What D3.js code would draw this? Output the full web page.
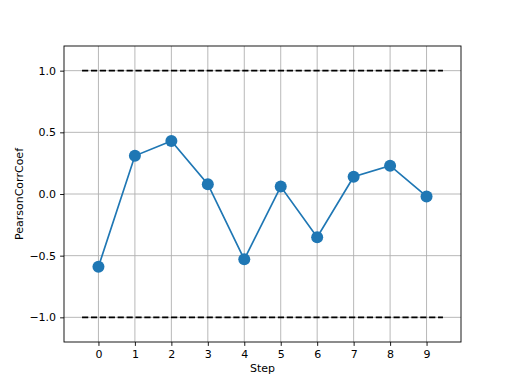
<!DOCTYPE html>
<html>
<head>
<meta charset="utf-8">
<script src="https://cdn.jsdelivr.net/npm/d3@7"></script>
<style>
  body { margin: 0; background: #fff; }
  text { font-family: "DejaVu Sans", sans-serif; }
</style>
</head>
<body>
<div id="chart"></div>
<script>
// values
var steps = [0, 1, 2, 3, 4, 5, 6, 7, 8, 9];
var corr = [-0.59, 0.31, 0.43, 0.08, -0.53, 0.06, -0.35, 0.14, 0.23, -0.02];
var yTicks = [-1.0, -0.5, 0.0, 0.5, 1.0];
var bounds = [-1, 1];

var W = 512, H = 384;
var margin = {top: 46, right: 51, bottom: 42, left: 64},
    width = W - margin.left - margin.right,
    height = H - margin.top - margin.bottom;

var svg = d3.select("#chart").append("svg")
    .attr("width", W)
    .attr("height", H);

var g = svg.append("g")
    .attr("transform", "translate(" + margin.left + "," + margin.top + ")");

// hlines go from -0.45 to 9.45, axes add 5% margin
var x = d3.scaleLinear().domain([-0.945, 9.945]).range([0, width]);
var y = d3.scaleLinear().domain([-1.2, 1.2]).range([height, 0]);

// grid
g.append("g").selectAll("line")
    .data(steps)
    .enter().append("line")
    .attr("x1", d => x(d)).attr("x2", d => x(d))
    .attr("y1", 0).attr("y2", height)
    .attr("stroke", "#b0b0b0").attr("stroke-width", 0.9);

g.append("g").selectAll("line")
    .data(yTicks)
    .enter().append("line")
    .attr("x1", 0).attr("x2", width)
    .attr("y1", d => y(d)).attr("y2", d => y(d))
    .attr("stroke", "#b0b0b0").attr("stroke-width", 0.9);

// dashed bounds
g.append("g").selectAll("line")
    .data(bounds)
    .enter().append("line")
    .attr("x1", x(-0.45)).attr("x2", x(9.45))
    .attr("y1", d => y(d)).attr("y2", d => y(d))
    .attr("stroke", "#000").attr("stroke-width", 1.7)
    .attr("stroke-dasharray", "6.2,2.7");

// line + markers
var line = d3.line()
    .x((d, i) => x(steps[i]))
    .y(d => y(d));

g.append("path")
    .datum(corr)
    .attr("fill", "none")
    .attr("stroke", "#1f77b4")
    .attr("stroke-width", 1.7)
    .attr("d", line);

g.selectAll(".dot")
    .data(corr)
    .enter().append("circle")
    .attr("class", "dot")
    .attr("cx", (d, i) => x(steps[i]))
    .attr("cy", d => y(d))
    .attr("r", 6)
    .attr("fill", "#1f77b4");

// axes
var xAxis = g.append("g")
    .attr("transform", "translate(0," + height + ")")
    .call(d3.axisBottom(x).tickValues(steps).tickFormat(d3.format("d")).tickSize(3.9).tickPadding(4));

var yAxis = g.append("g")
    .call(d3.axisLeft(y).tickValues(yTicks).tickFormat(d => d3.format(".1f")(d).replace("-", "\u2212")).tickSize(3.9).tickPadding(4));

[xAxis, yAxis].forEach(function(a){
  a.select(".domain").remove();
  a.selectAll("text").attr("font-size", "11px").attr("fill", "#000")
      .attr("font-family", "DejaVu Sans, sans-serif");
  a.selectAll("line").attr("stroke", "#000").attr("stroke-width", 0.9);
});

// frame
g.append("rect")
    .attr("width", width).attr("height", height)
    .attr("fill", "none").attr("stroke", "#000").attr("stroke-width", 0.9);

// labels
svg.append("text")
    .attr("x", margin.left + width / 2)
    .attr("y", 372)
    .attr("text-anchor", "middle")
    .attr("font-size", "11px")
    .text("Step");

svg.append("text")
    .attr("transform", "translate(23," + (margin.top + height / 2) + ") rotate(-90)")
    .attr("text-anchor", "middle")
    .attr("font-size", "11px")
    .text("PearsonCorrCoef");
</script>
</body>
</html>
